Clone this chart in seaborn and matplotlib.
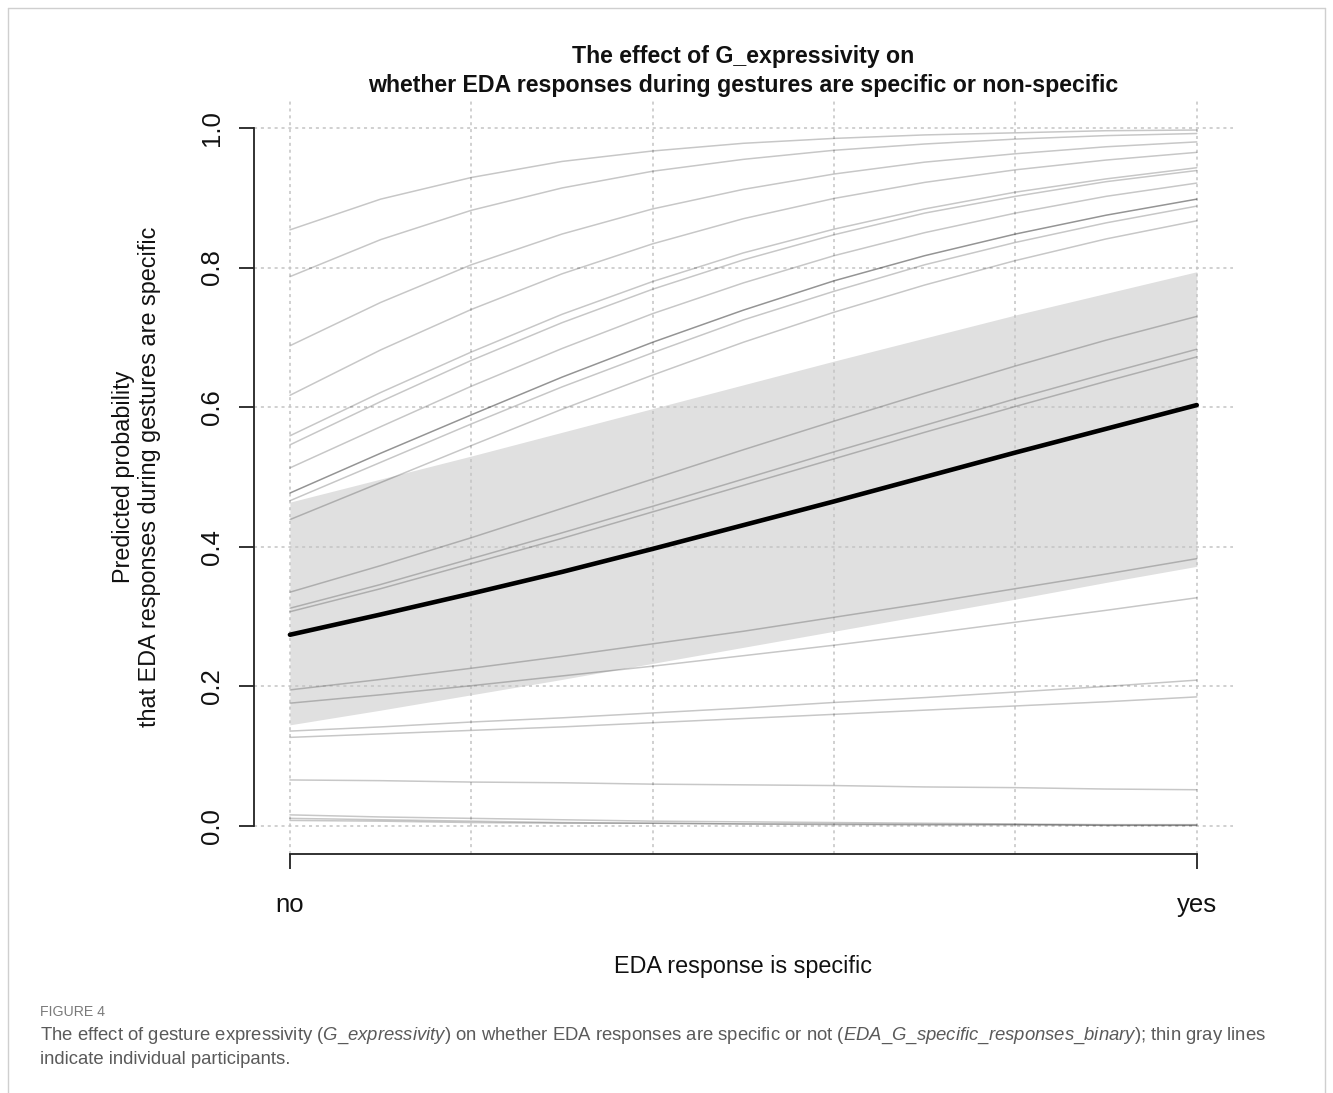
import numpy as np
import pandas as pd
import seaborn as sns
import matplotlib.pyplot as plt
from matplotlib.lines import Line2D

# x positions along "EDA response is specific" (0 = no, 1 = yes)
x_grid = [0.0, 0.1, 0.2, 0.3, 0.4, 0.5, 0.6, 0.7, 0.8, 0.9, 1.0]

# predicted probability per participant, read at each x position
participant_probs = [
    [0.854, 0.898, 0.929, 0.952, 0.967, 0.978, 0.985, 0.990, 0.993, 0.996, 0.997],
    [0.787, 0.840, 0.882, 0.914, 0.938, 0.955, 0.968, 0.977, 0.984, 0.989, 0.992],
    [0.688, 0.750, 0.804, 0.848, 0.884, 0.912, 0.934, 0.951, 0.963, 0.973, 0.980],
    [0.617, 0.682, 0.740, 0.791, 0.834, 0.870, 0.899, 0.922, 0.940, 0.954, 0.965],
    [0.559, 0.621, 0.679, 0.733, 0.780, 0.821, 0.855, 0.884, 0.908, 0.927, 0.943],
    [0.546, 0.608, 0.667, 0.721, 0.769, 0.811, 0.847, 0.878, 0.902, 0.923, 0.939],
    [0.513, 0.572, 0.630, 0.684, 0.734, 0.778, 0.817, 0.850, 0.878, 0.902, 0.921],
    [0.466, 0.521, 0.576, 0.629, 0.678, 0.725, 0.766, 0.804, 0.836, 0.864, 0.888],
    [0.439, 0.492, 0.545, 0.597, 0.646, 0.693, 0.736, 0.775, 0.810, 0.841, 0.867],
    [0.335, 0.373, 0.413, 0.455, 0.497, 0.539, 0.580, 0.620, 0.659, 0.696, 0.730],
    [0.312, 0.346, 0.383, 0.420, 0.458, 0.497, 0.536, 0.574, 0.612, 0.648, 0.683],
    [0.307, 0.340, 0.376, 0.412, 0.450, 0.488, 0.526, 0.564, 0.601, 0.637, 0.672],
    [0.195, 0.210, 0.226, 0.243, 0.261, 0.279, 0.299, 0.319, 0.340, 0.361, 0.383],
    [0.176, 0.188, 0.201, 0.215, 0.229, 0.244, 0.259, 0.275, 0.292, 0.309, 0.327],
    [0.136, 0.142, 0.149, 0.155, 0.162, 0.169, 0.177, 0.184, 0.192, 0.200, 0.209],
    [0.127, 0.132, 0.137, 0.142, 0.148, 0.154, 0.160, 0.166, 0.172, 0.178, 0.185],
    [0.066, 0.065, 0.063, 0.062, 0.060, 0.059, 0.058, 0.056, 0.055, 0.053, 0.052],
    [0.016, 0.013, 0.011, 0.009, 0.007, 0.006, 0.005, 0.004, 0.003, 0.002, 0.002],
    [0.011, 0.009, 0.007, 0.005, 0.004, 0.003, 0.003, 0.002, 0.002, 0.001, 0.001],
    [0.008, 0.007, 0.005, 0.004, 0.004, 0.003, 0.002, 0.002, 0.002, 0.001, 0.001],
]
# one participant line drawn a bit darker in the original
dark_participant = [0.477, 0.534, 0.589, 0.643, 0.693, 0.739, 0.781, 0.817, 0.848, 0.875, 0.898]

mean_probs = [0.274, 0.303, 0.333, 0.364, 0.397, 0.431, 0.465, 0.500, 0.535, 0.569, 0.603]
ci_lower = [0.145, 0.166, 0.188, 0.210, 0.233, 0.256, 0.279, 0.302, 0.325, 0.349, 0.372]
ci_upper = [0.464, 0.497, 0.530, 0.564, 0.598, 0.632, 0.666, 0.699, 0.732, 0.763, 0.794]

grid_x = [0.0, 0.2, 0.4, 0.6, 0.8, 1.0]
x_tick_labels = ["no", "yes"]
y_ticks = [0.0, 0.2, 0.4, 0.6, 0.8, 1.0]

sns.set_style("white")
plt.rcParams['font.family'] = ['Liberation Sans', 'DejaVu Sans']
plt.rcParams['mathtext.fontset'] = 'custom'
plt.rcParams['mathtext.it'] = 'Liberation Sans:italic'
plt.rcParams['mathtext.rm'] = 'Liberation Sans'

rows = []
for i, probs in enumerate(participant_probs):
    for x, p in zip(x_grid, probs):
        rows.append({'participant': i, 'x': x, 'prob': p})
df = pd.DataFrame(rows)

fig = plt.figure(figsize=(13.33, 10.93), dpi=100)
ax = fig.add_axes([0.1903, 0.2187, 0.7347, 0.6898])

ax.fill_between(x_grid, ci_lower, ci_upper, color='#e0e0e0', lw=0, zorder=1)

# dotted grid like R's grid()
for g in grid_x:
    ax.axvline(g, color='#c4c4c4', lw=1.1, linestyle=(0, (2, 2.5)), zorder=1.5)
for g in y_ticks:
    ax.axhline(g, color='#c4c4c4', lw=1.1, linestyle=(0, (2, 2.5)), zorder=1.5)

sns.lineplot(data=df, x='x', y='prob', units='participant', estimator=None,
             color='black', alpha=0.22, lw=1.1, ax=ax, legend=False, zorder=2)
sns.lineplot(x=x_grid, y=dark_participant, color='black', alpha=0.42, lw=1.1, ax=ax, zorder=2)
sns.lineplot(x=x_grid, y=mean_probs, color='black', lw=3.3, ax=ax, zorder=3)

ax.set_xlim(-0.04, 1.04)
ax.set_ylim(-0.04, 1.04)
ax.set_xticks([0, 1])
ax.set_xticklabels(x_tick_labels)
ax.set_yticks(y_ticks)
ax.set_yticklabels([f"{v:.1f}" for v in y_ticks])

for side in ['top', 'right']:
    ax.spines[side].set_visible(False)
for side in ['left', 'bottom']:
    ax.spines[side].set_color('#222222')
    ax.spines[side].set_linewidth(1.3)
ax.spines['left'].set_bounds(0, 1)
ax.spines['bottom'].set_bounds(0, 1)

ax.tick_params(axis='both', direction='out', length=10.8, width=1.3, color='#222222',
               labelsize=18.5, labelcolor='#111111', bottom=True, left=True)
ax.tick_params(axis='x', pad=17)
ax.tick_params(axis='y', pad=10.5)
for lab in ax.get_yticklabels():
    lab.set_rotation(90)
    lab.set_va('center')

ax.set_xlabel("EDA response is specific", fontsize=16.8, labelpad=28, color='#111111')
ax.set_ylabel("Predicted probability\nthat EDA responses during gestures are specific",
              fontsize=16.8, labelpad=28, color='#111111')
ax.set_title("The effect of G_expressivity on\nwhether EDA responses during gestures are specific or non-specific",
             fontsize=16.7, fontweight='bold', pad=6, color='#111111', linespacing=1.3)

# caption below the figure
fig.text(40 / 1333, 1 - 1012 / 1093, "FIGURE 4", fontsize=10.2, color='#7a7a7a', va='center')
fig.text(40 / 1333, 1 - 1036 / 1093,
         r"The effect of gesture expressivity ($\it{G\_expressivity}$) on whether EDA responses are specific or not "
         r"($\it{EDA\_G\_specific\_responses\_binary}$); thin gray lines",
         fontsize=13.3, color='#5a5a5a', va='center')
fig.text(40 / 1333, 1 - 1059 / 1093, "indicate individual participants.",
         fontsize=13.3, color='#5a5a5a', va='center')

# thin page frame
frame_kw = dict(transform=fig.transFigure, color='#cfcfcf', lw=1)
fig.add_artist(Line2D([8 / 1333, 8 / 1333], [0, 1 - 8 / 1093], **frame_kw))
fig.add_artist(Line2D([8 / 1333, 1325 / 1333], [1 - 8 / 1093, 1 - 8 / 1093], **frame_kw))
fig.add_artist(Line2D([1325 / 1333, 1325 / 1333], [0, 1 - 8 / 1093], **frame_kw))

fig.savefig("out.png", dpi=100)
